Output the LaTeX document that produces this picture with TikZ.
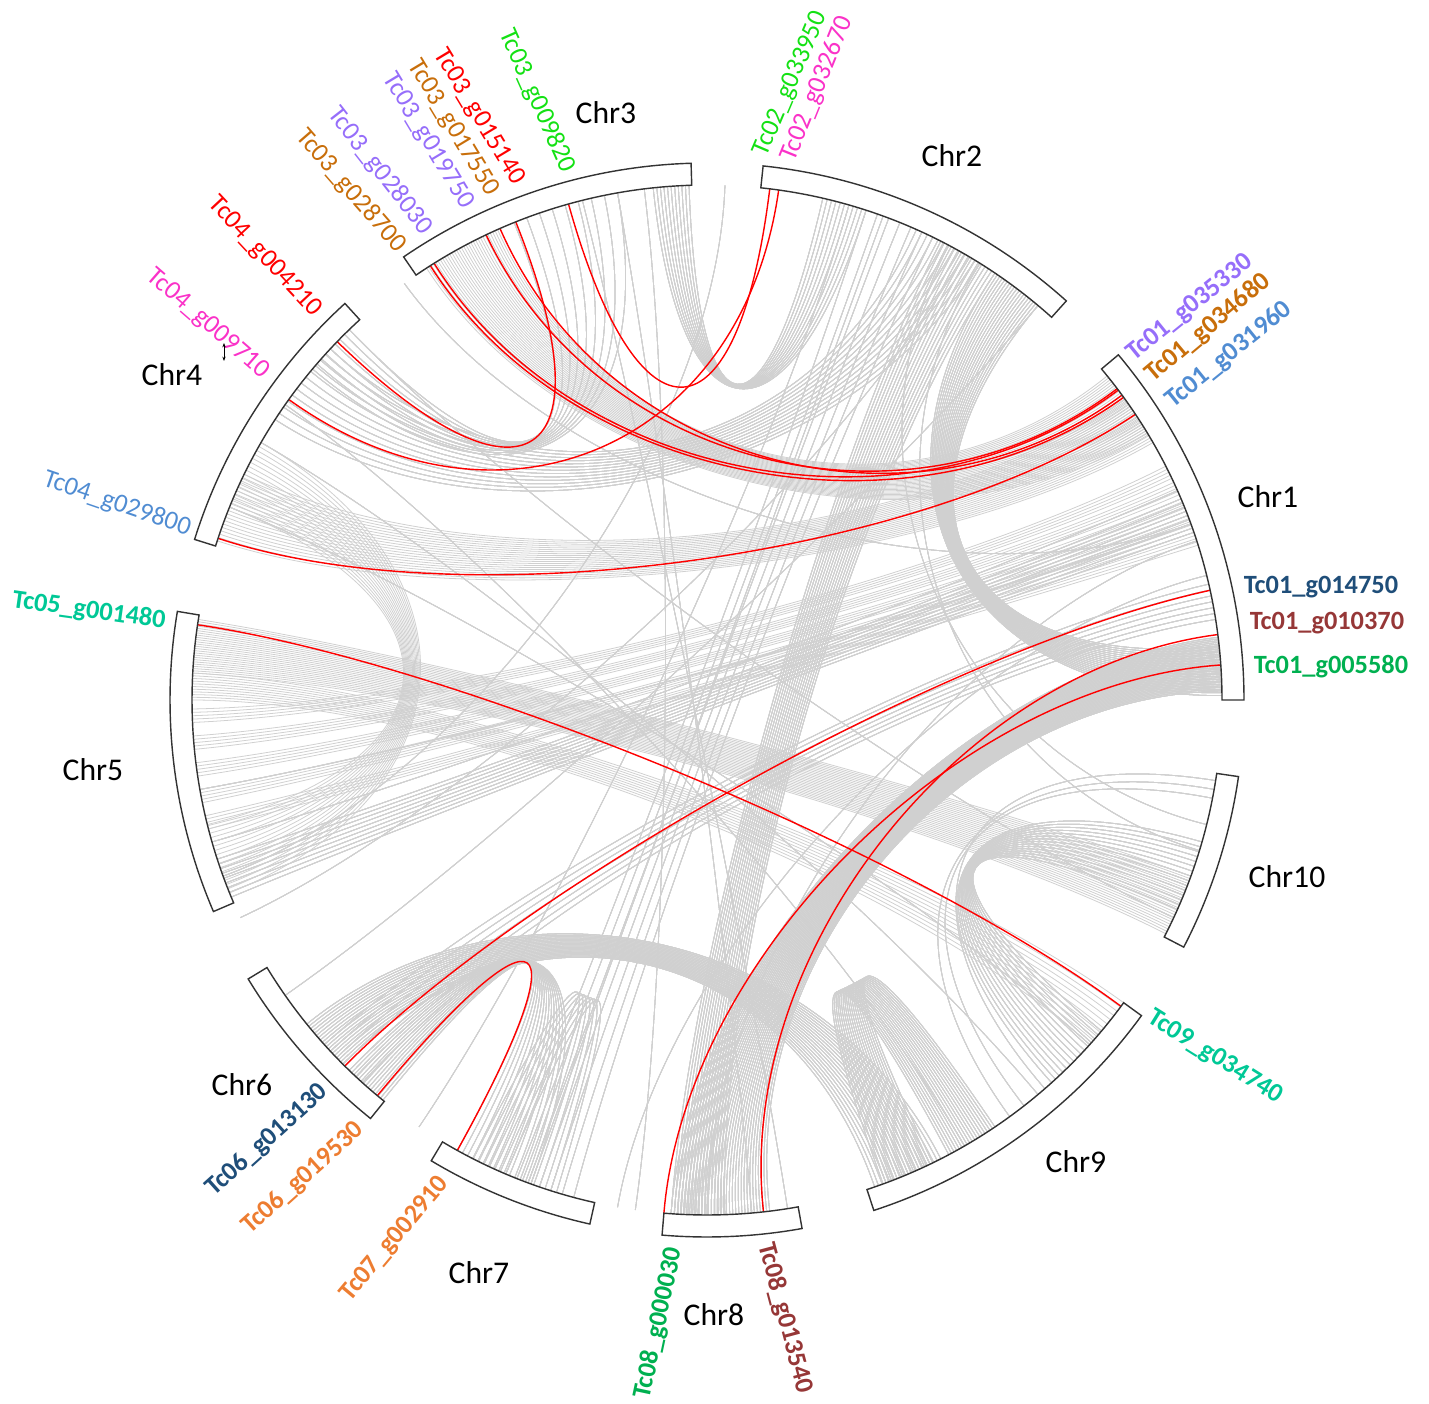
\documentclass[tikz,border=0pt]{standalone}
\usepackage{fontspec}
\setmainfont{Carlito}
\usetikzlibrary{arrows.meta}

\definecolor{cLink}{RGB}{208,208,208}
\definecolor{cBright}{RGB}{20,225,20}
\definecolor{cPink}{RGB}{250,50,200}
\definecolor{cRed}{RGB}{255,0,0}
\definecolor{cBrown}{RGB}{200,110,10}
\definecolor{cPurple}{RGB}{150,110,250}
\definecolor{cBlue}{RGB}{80,140,210}
\definecolor{cTeal}{RGB}{0,200,150}
\definecolor{cNavy}{RGB}{31,78,121}
\definecolor{cMaroon}{RGB}{150,55,55}
\definecolor{cGreen}{RGB}{0,176,80}
\definecolor{cOrange}{RGB}{237,125,49}

% one link between two angles on the inner circle
\newcommand{\lnk}[3][graylink]{\draw[#1] (#2:515) .. controls (#2:255) and (#3:255) .. (#3:515);}
% a bundle of links: from #1..#2 to #3..#4, #5 steps
\newcommand{\bundle}[5]{\foreach \k in {0,...,#5}{\pgfmathsetmacro{\angA}{#1+(#2-#1)*\k/#5}\pgfmathsetmacro{\angB}{#3+(#4-#3)*\k/#5}\lnk{\angA}{\angB}}}

\begin{document}
\begin{tikzpicture}[x=0.02cm, y=0.02cm,
    graylink/.style={draw=cLink, line width=0.45pt},
    redlink/.style={draw=cRed, line width=0.8pt},
    chrom/.style={draw=black!80, fill=white, line width=0.8pt},
    chrlab/.style={font=\fontsize{18}{20}\selectfont},
    gene/.style={font=\fontsize{15}{17}\selectfont, inner sep=0pt},
    geneb/.style={font=\fontsize{15}{17}\selectfont\bfseries, inner sep=0pt}]
    \useasboundingbox (-707,-703) rectangle (722,700);
    \coordinate (O) at (0,0);

    % gray links
    \bundle{114}{123}{39}{31}{30}
    \bundle{154}{162}{36}{30}{20}
    \bundle{171}{177}{340}{333}{24}
    \bundle{177}{180}{324}{318}{10}
    \bundle{194}{202}{158}{150}{16}
    \foreach \c/\d in {181/27, 184/25, 187/23, 190/21, 193/19}
        \bundle{\c}{\c+1.5}{\d}{\d-1.5}{4}
    \bundle{198}{202.5}{23}{19}{8}
    \bundle{50}{56}{6}{0.5}{18}
    \bundle{56}{63}{272}{266}{16}
    \bundle{1}{7}{277}{266}{32}
    \bundle{219}{225}{297}{289}{18}
    \bundle{226}{231}{250}{241}{14}
    \bundle{243}{247}{249}{253}{6}
    \bundle{290}{296}{298}{304}{18}
    \bundle{336}{344}{320}{312}{14}
    \bundle{92}{96}{77}{72}{10}
    \bundle{64}{72}{255}{247}{6}
    \bundle{137}{147}{66}{58}{12}
    \bundle{100}{112}{140}{134}{8}
    \bundle{9}{13}{228}{222}{6}
    \foreach \a/\b in {150/310, 145/300, 158/318, 100/275, 104/279, 97/262,
        70/250, 74/236, 88/200, 60/205, 20/190, 24/196, 134/335, 126/20,
        50/215, 14/260, 18/270, 349/308, 350/306, 351/311, 343/58, 346/62}
        \lnk{\a}{\b};

    % red links
    \lnk[redlink]{83}{105.6}
    \lnk[redlink]{82}{144.3}
    \lnk[redlink]{111.8}{135.9}
    \lnk[redlink]{122.5}{36}
    \lnk[redlink]{122}{37}
    \lnk[redlink]{115.4}{37.2}
    \lnk[redlink]{113.7}{36.3}
    \lnk[redlink]{161.7}{33.7}
    \lnk[redlink]{171.6}{323.5}
    \lnk[redlink]{12.3}{225.3}
    \lnk[redlink]{7.3}{276.3}
    \lnk[redlink]{3.9}{265.2}
    \lnk[redlink]{230.2}{241}

    % chromosomes
    \foreach \a/\b in {0/40, 48/84, 91.7/124.4, 132.4/162.6, 170.5/203.2,
        211.3/231.2, 239.1/257.4, 265.2/280.2, 288.1/324, 332.6/351.8}
        \draw[chrom] (\a:537) arc[start angle=\a, end angle=\b, radius=537]
            -- (\b:515) arc[start angle=\b, end angle=\a, radius=515] -- cycle;

    \node[chrlab] (chr1) at (561,203) {Chr1};
    \node[chrlab] (chr2) at (245,544) {Chr2};
    \node[chrlab] (chr3) at (-101,587) {Chr3};
    \node[chrlab] (chr4) at (-535,325) {Chr4};
    \node[chrlab] (chr5) at (-614,-70) {Chr5};
    \node[chrlab] (chr6) at (-465,-385) {Chr6};
    \node[chrlab] (chr7) at (-228,-573) {Chr7};
    \node[chrlab] (chr8) at (7,-615) {Chr8};
    \node[chrlab] (chr9) at (369,-462) {Chr9};
    \node[chrlab] (chr10) at (580,-177) {Chr10};

    % gene labels
    \node[gene, cBright, rotate=67] (g02a) at (84,616) {Tc02\_g033950};
    \node[gene, cPink, rotate=68] (g02b) at (110,611) {Tc02\_g032670};
    \node[gene, cBright, rotate=-66] (g03a) at (-170,599) {Tc03\_g009820};
    \node[gene, cRed, rotate=-59] (g03b) at (-228,583) {Tc03\_g015140};
    \node[gene, cBrown, rotate=-59] (g03c) at (-254,572) {Tc03\_g017550};
    \node[gene, cPurple, rotate=-59] (g03d) at (-279,559) {Tc03\_g019750};
    \node[gene, cPurple, rotate=-52] (g03e) at (-327,529) {Tc03\_g028030};
    \node[gene, cBrown, rotate=-49] (g03f) at (-356,509) {Tc03\_g028700};
    \node[gene, cRed, rotate=-47] (g04a) at (-442,443) {Tc04\_g004210};
    \node[gene, cPink, rotate=-41] (g04b) at (-499,376) {Tc04\_g009710};
    \node[gene, cBlue, rotate=-19] (g04c) at (-590,196) {Tc04\_g029800};
    \node[geneb, cTeal, rotate=-8] (g05a) at (-618,89) {Tc05\_g001480};
    \node[geneb, cNavy, rotate=42] (g06a) at (-440,-440) {Tc06\_g013130};
    \node[geneb, cOrange, rotate=42] (g06b) at (-404,-478) {Tc06\_g019530};
    \node[geneb, cOrange, rotate=50] (g07a) at (-312,-539) {Tc07\_g002910};
    \node[geneb, cGreen, rotate=78] (g08a) at (-48,-623) {Tc08\_g000030};
    \node[geneb, cMaroon, rotate=-75] (g08b) at (78,-618) {Tc08\_g013540};
    \node[geneb, cTeal, rotate=-32] (g09a) at (508,-357) {Tc09\_g034740};
    \node[geneb, cPurple, rotate=39] (g01a) at (483,392) {Tc01\_g035330};
    \node[geneb, cBrown, rotate=40] (g01b) at (501,372) {Tc01\_g034680};
    \node[geneb, cBlue, rotate=39] (g01c) at (522,345) {Tc01\_g031960};
    \node[geneb, cNavy] (g01d) at (614,113) {Tc01\_g014750};
    \node[geneb, cMaroon] (g01e) at (620,77) {Tc01\_g010370};
    \node[geneb, cGreen] (g01f) at (624,33) {Tc01\_g005580};

    % small mark near Chr4
    \coordinate (m1) at (-483,357);
    \coordinate (m2) at (-483,339);
    \draw[{Stealth[length=2.5pt]}-{Stealth[length=2.5pt]}, line width=0.4pt] (m1) -- (m2);
\end{tikzpicture}
\end{document}
